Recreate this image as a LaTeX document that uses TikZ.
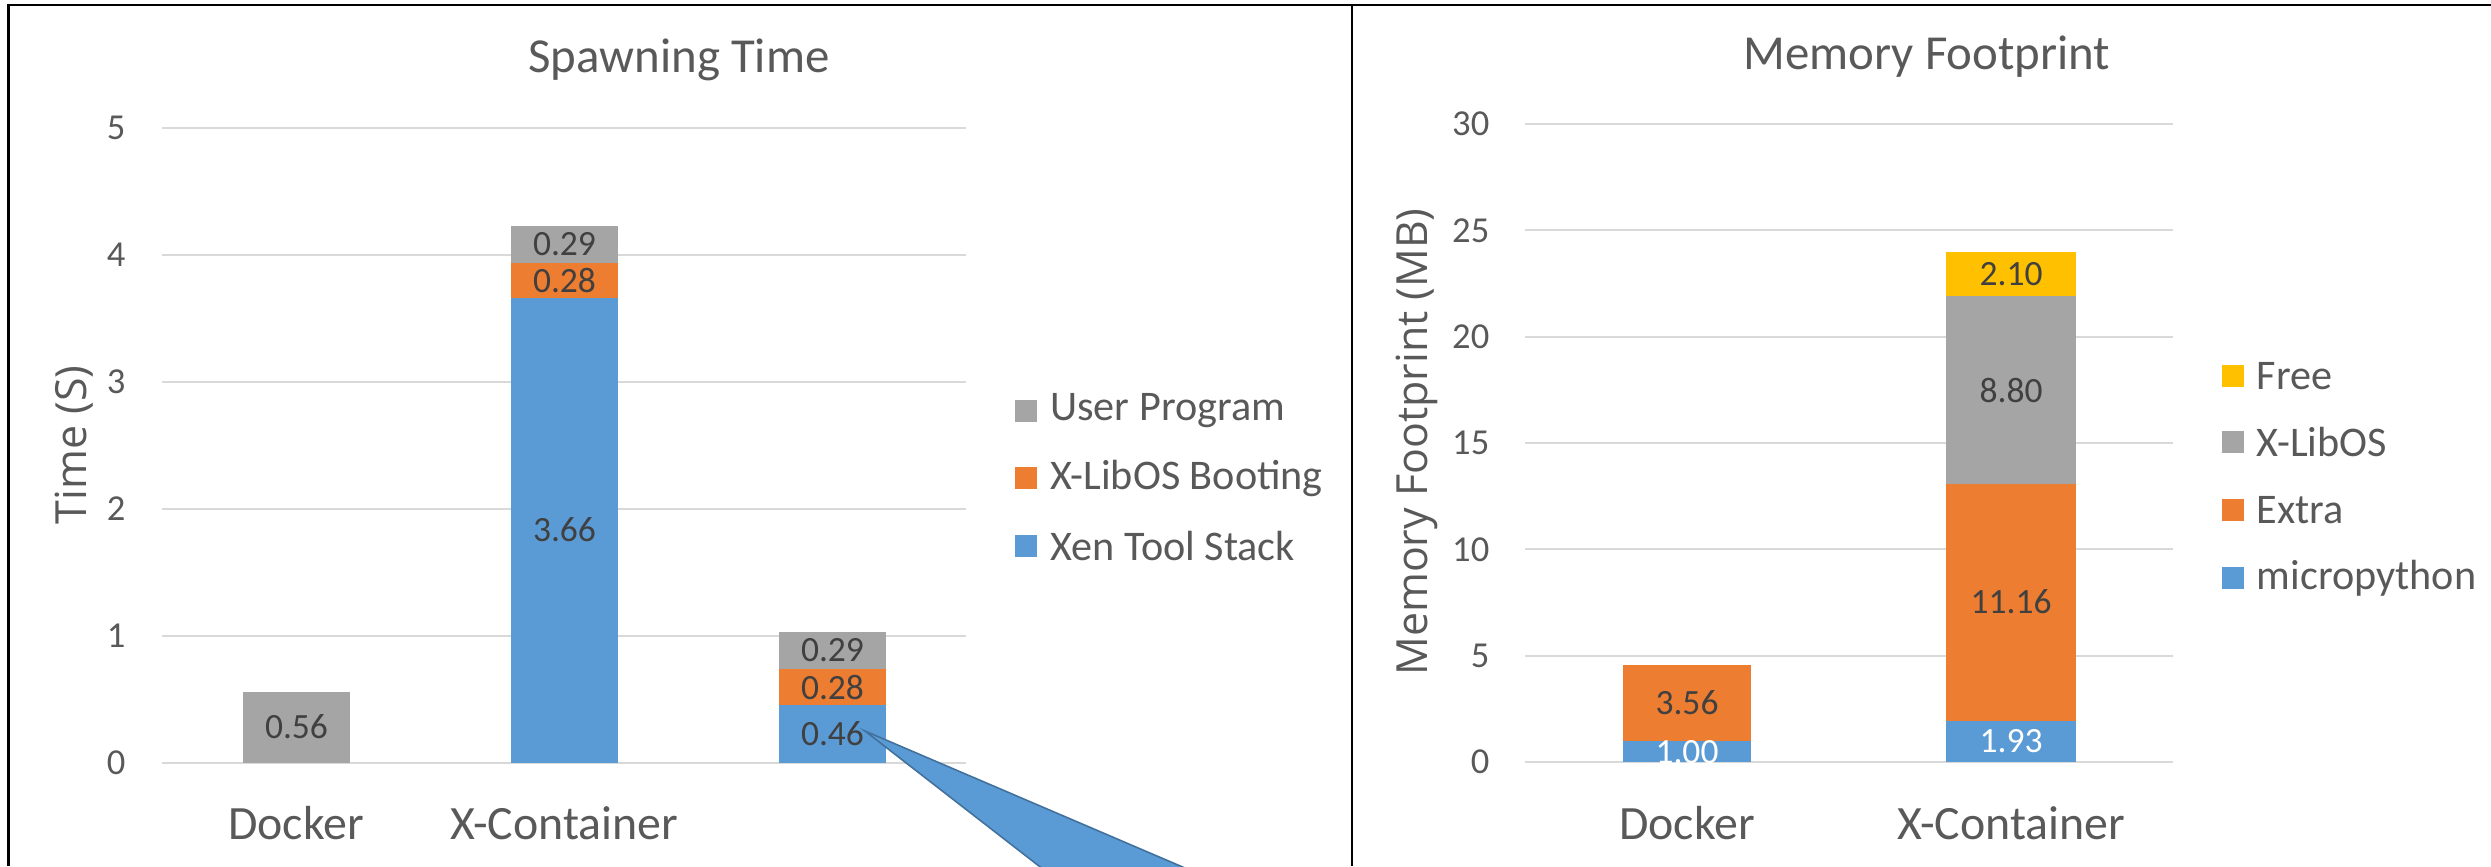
\documentclass[tikz,border=0pt]{standalone}
\usepackage{fontspec}
\setmainfont{Carlito}
\newfontfamily\axisfont{Open Sans}
\usetikzlibrary{positioning}
\definecolor{barblue}{HTML}{5B9BD5}
\definecolor{barorange}{HTML}{ED7D31}
\definecolor{bargray}{HTML}{A5A5A5}
\definecolor{baryellow}{HTML}{FFC000}
\definecolor{gridgray}{HTML}{D9D9D9}
\definecolor{txtgray}{HTML}{595959}
\definecolor{lblgray}{HTML}{404040}
\definecolor{edgeblue}{HTML}{41719C}

\begin{document}
\begin{tikzpicture}[
  x=0.01cm,y=-0.01cm,
  gridline/.style={gridgray,line width=0.6pt},
  ticklbl/.style={anchor=east,inner sep=0pt,text=txtgray,font=\fontsize{10.4}{12}\selectfont},
  val/.style={inner sep=0pt,text=lblgray,font=\fontsize{10.1}{12}\selectfont},
  cat/.style={text=txtgray,font=\fontsize{13.6}{16}\selectfont},
  ttl/.style={text=txtgray,font=\fontsize{13.9}{16}\selectfont},
  axlbl/.style={rotate=90,text=txtgray,font=\axisfont\fontsize{12.2}{14}\selectfont},
  legbox/.style={minimum size=0.22cm,inner sep=0pt},
  legtxt/.style={inner sep=0pt,text=txtgray,font=\fontsize{12}{14}\selectfont},
  frame/.style={black,line width=0.7pt},
  callout/.style={fill=barblue,draw=edgeblue,line width=0.45pt,line join=miter}
]
  \useasboundingbox (0,0) rectangle (2491,866);
  % spawning time
  \foreach \k in {0,...,5} {
    \draw[gridline] (162,763-127*\k) -- (966,763-127*\k);
    \node[ticklbl] at (126,763-127*\k) {\k};
  }
  \fill[bargray] (243,763) rectangle (350,691.9);
  \fill[barblue] (511,763) rectangle (618,298.2);
  \fill[barorange] (511,298.2) rectangle (618,262.6);
  \fill[bargray] (511,262.6) rectangle (618,225.8);
  \fill[barblue] (779,763) rectangle (886,704.6);
  \fill[barorange] (779,704.6) rectangle (886,669);
  \fill[bargray] (779,669) rectangle (886,632.2);
  \node[val] (d56) at (296.5,727) {0.56};
  \node[val] (x366) at (564.5,530) {3.66};
  \node[val] (x28) at (564.5,280) {0.28};
  \node[val] (x29) at (564.5,244) {0.29};
  \node[val] (z46) at (832.5,734) {0.46};
  \node[val] (z28) at (832.5,687) {0.28};
  \node[val] (z29) at (832.5,650) {0.29};
  \node[ttl] (t1) at (679,60) {Spawning Time};
  \node[axlbl] (a1) at (74,445) {Time (S)};
  \node[cat] (c1) at (296,823) {Docker};
  \node[cat] (c2) at (564,823) {X-Container};
  \node[legbox,fill=bargray] (lu) at (1026,411) {};
  \node[legbox,fill=barorange] (lx) at (1026,478) {};
  \node[legbox,fill=barblue] (lt) at (1026,546) {};
  \node[legtxt,right=3.4pt of lu] {User Program};
  \node[legtxt,right=3.4pt of lx] {X-LibOS Booting};
  \node[legtxt,right=3.4pt of lt] {Xen Tool Stack};
  % memory footprint
  \foreach \k in {0,...,6} {
    \draw[gridline] (1525,762-106.33*\k) -- (2173,762-106.33*\k);
    \pgfmathtruncatemacro\mb{5*\k}
    \node[ticklbl] at (1490,762-106.33*\k) {\mb};
  }
  \fill[barblue] (1623,762) rectangle (1751,740.7);
  \fill[barorange] (1623,740.7) rectangle (1751,665);
  \fill[barblue] (1946,762) rectangle (2076,721);
  \fill[barorange] (1946,721) rectangle (2076,483.6);
  \fill[bargray] (1946,483.6) rectangle (2076,296.4);
  \fill[baryellow] (1946,296.4) rectangle (2076,251.7);
  \node[val,text=white] (m100) at (1687,752) {1.00};
  \node[val] (m356) at (1687,703) {3.56};
  \node[val,text=white] (m193) at (2011,741.5) {1.93};
  \node[val] (m1116) at (2011,602) {11.16};
  \node[val] (m880) at (2011,390) {8.80};
  \node[val] (m210) at (2011,274) {2.10};
  \node[ttl] (t2) at (1927,57) {Memory Footprint};
  \node[axlbl] (a2) at (1417,442) {Memory Footprint (MB)};
  \node[cat] (c3) at (1687,823) {Docker};
  \node[cat] (c4) at (2011,823) {X-Container};
  \node[legbox,fill=baryellow] (lf) at (2232.5,376) {};
  \node[legbox,fill=bargray] (lo) at (2232.5,442) {};
  \node[legbox,fill=barorange] (le) at (2232.5,510) {};
  \node[legbox,fill=barblue] (lm) at (2232.5,578) {};
  \node[legtxt,right=3.4pt of lf] {Free};
  \node[legtxt,right=3.4pt of lo] {X-LibOS};
  \node[legtxt,right=3.4pt of le] {Extra};
  \node[legtxt,right=3.4pt of lm] {micropython};
  % callout and frame
  \coordinate (tip) at (865,731);
  \filldraw[callout] (tip) -- (1057,880) -- (1213,880) -- cycle;
  \draw[frame] (8.5,866) -- (8.5,5) -- (2491,5);
  \draw[frame] (1352,5) -- (1352,866);
\end{tikzpicture}
\end{document}
